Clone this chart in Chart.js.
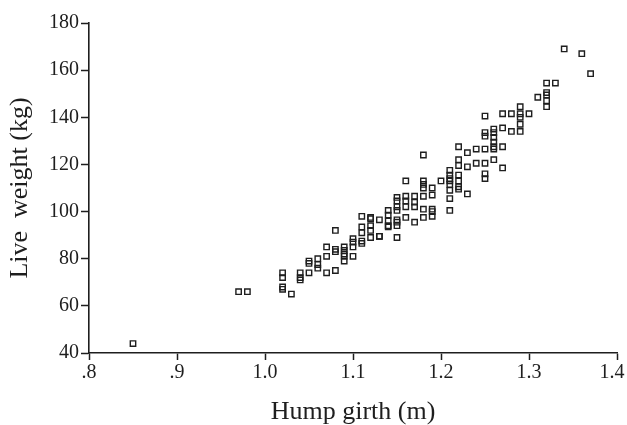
<!DOCTYPE html>
<html>
<head>
<meta charset="utf-8">
<script src="https://cdn.jsdelivr.net/npm/chart.js@4"></script>
<style>
  html, body { margin: 0; padding: 0; background: #fff; }
  #wrap { position: relative; width: 627px; height: 425px; }
</style>
</head>
<body>
<div id="wrap"><canvas id="chart"></canvas></div>
<script>
// hump girth (m) and live weight (kg), one pair per animal
const girth = [
  0.85, 0.97, 0.98,
  1.02, 1.02, 1.02, 1.02, 1.03,
  1.04, 1.04, 1.04, 1.05, 1.05, 1.05,
  1.06, 1.06, 1.06, 1.07, 1.07, 1.07,
  1.08, 1.08, 1.08, 1.08,
  1.09, 1.09, 1.09, 1.09, 1.09,
  1.10, 1.10, 1.10, 1.10,
  1.11, 1.11, 1.11, 1.11, 1.11,
  1.12, 1.12, 1.12, 1.12, 1.12,
  1.13, 1.13, 1.13,
  1.14, 1.14, 1.14, 1.14, 1.14,
  1.15, 1.15, 1.15, 1.15, 1.15, 1.15, 1.15, 1.15,
  1.16, 1.16, 1.16, 1.16, 1.16,
  1.17, 1.17, 1.17, 1.17,
  1.18, 1.18, 1.18, 1.18, 1.18, 1.18, 1.18,
  1.19, 1.19, 1.19, 1.19, 1.19,
  1.20,
  1.21, 1.21, 1.21, 1.21, 1.21, 1.21, 1.21, 1.21,
  1.22, 1.22, 1.22, 1.22, 1.22, 1.22, 1.22,
  1.23, 1.23, 1.23, 1.24, 1.24,
  1.25, 1.25, 1.25, 1.25, 1.25, 1.25, 1.25,
  1.26, 1.26, 1.26, 1.26, 1.26, 1.26, 1.26,
  1.27, 1.27, 1.27, 1.27, 1.28, 1.28,
  1.29, 1.29, 1.29, 1.29, 1.29, 1.30, 1.31,
  1.32, 1.32, 1.32, 1.32, 1.32, 1.33,
  1.34, 1.36, 1.37
];
const weight = [
  44, 66, 66,
  74, 72, 68, 67, 65,
  74, 72, 71, 74, 79, 78,
  80, 77.5, 76, 85, 81, 74,
  92, 84, 83, 75,
  85, 83.5, 82, 81, 79,
  88.5, 87, 85, 81,
  98, 93.5, 91, 87.5, 86.5,
  97.5, 97, 94, 92, 89,
  96.5, 89.5, 89.5,
  100.5, 98.5, 96, 94, 93.5,
  106, 104.5, 102, 100.5, 96.5, 95.5, 94, 89,
  113, 106.5, 104.5, 102, 97.5,
  106.5, 104, 102, 95.5,
  124, 113, 111.5, 110, 106.5, 101, 97.5,
  110, 107, 101, 100, 98,
  113,
  117.5, 115.5, 114, 113, 111.5, 109, 105.5, 100.5,
  127.5, 122, 119.5, 115.5, 113, 110.5, 109.5,
  125, 119, 107.5, 126.5, 120.5,
  140.5, 133.5, 132, 126.5, 120.5, 116, 114,
  135, 133.5, 131.5, 129.5, 127.5, 126.5, 122,
  141.5, 135.5, 127.5, 118.5, 141.5, 134,
  144.5, 141.5, 140, 137, 134, 141.5, 148.5,
  154.5, 150.5, 149.5, 147, 144.5, 154.5,
  169, 167, 158.5
];
const xTicks = [0.8, 0.9, 1.0, 1.1, 1.2, 1.3, 1.4];
const yTicks = [40, 60, 80, 100, 120, 140, 160, 180];

const points = girth.map((g, i) => ({ x: g, y: weight[i] }));
const serif = 'Liberation Serif';
const ink = '#1e1e1e';

// tick text like ".8", ".9", "1.0"; last one padded so it stays inside the canvas
function xLabel(v) {
  const s = v < 1 ? '.' + Math.round(v * 10) : v.toFixed(1);
  return v === xTicks[xTicks.length - 1] ? s + '  ' : s;
}

new Chart(document.getElementById('chart'), {
  type: 'scatter',
  data: {
    datasets: [{
      data: points,
      pointStyle: 'rect',
      pointRadius: 3.8,
      pointBorderWidth: 1.4,
      borderColor: ink,
      backgroundColor: 'rgba(255,255,255,0)'
    }]
  },
  options: {
    responsive: true,
    maintainAspectRatio: false,
    animation: false,
    events: [],
    layout: { padding: { top: 23, right: 10, left: 0, bottom: 0 } },
    plugins: { legend: { display: false }, tooltip: { enabled: false } },
    scales: {
      x: {
        type: 'linear',
        min: xTicks[0],
        max: xTicks[xTicks.length - 1],
        afterBuildTicks: s => { s.ticks = xTicks.map(v => ({ value: v })) },
        afterFit: s => { s.height = 72; s.paddingRight = 10; s.paddingLeft = 0 },
        border: { display: true, color: ink, width: 1.6 },
        grid: { drawOnChartArea: false, drawTicks: true, tickLength: 7, tickColor: ink, tickWidth: 1.5 },
        ticks: {
          color: ink,
          padding: 1,
          font: { family: serif, size: 20 },
          callback: xLabel
        },
        title: {
          display: true,
          text: 'Hump girth (m)',
          color: ink,
          padding: { top: 0, bottom: 0 },
          font: { family: serif, size: 26, lineHeight: 1 }
        }
      },
      y: {
        type: 'linear',
        min: yTicks[0],
        max: yTicks[yTicks.length - 1],
        afterBuildTicks: s => { s.ticks = yTicks.map(v => ({ value: v })) },
        afterFit: s => { s.width = 89 },
        border: { display: true, color: ink, width: 1.6 },
        grid: { drawOnChartArea: false, drawTicks: true, tickLength: 8, tickColor: ink, tickWidth: 1.5 },
        ticks: {
          color: ink,
          padding: 2,
          font: { family: serif, size: 20 }
        },
        title: {
          display: true,
          text: 'Live  weight (kg)',
          color: ink,
          padding: { top: 7, bottom: 0 },
          font: { family: serif, size: 26, lineHeight: 1 }
        }
      }
    }
  }
});
</script>
</body>
</html>
